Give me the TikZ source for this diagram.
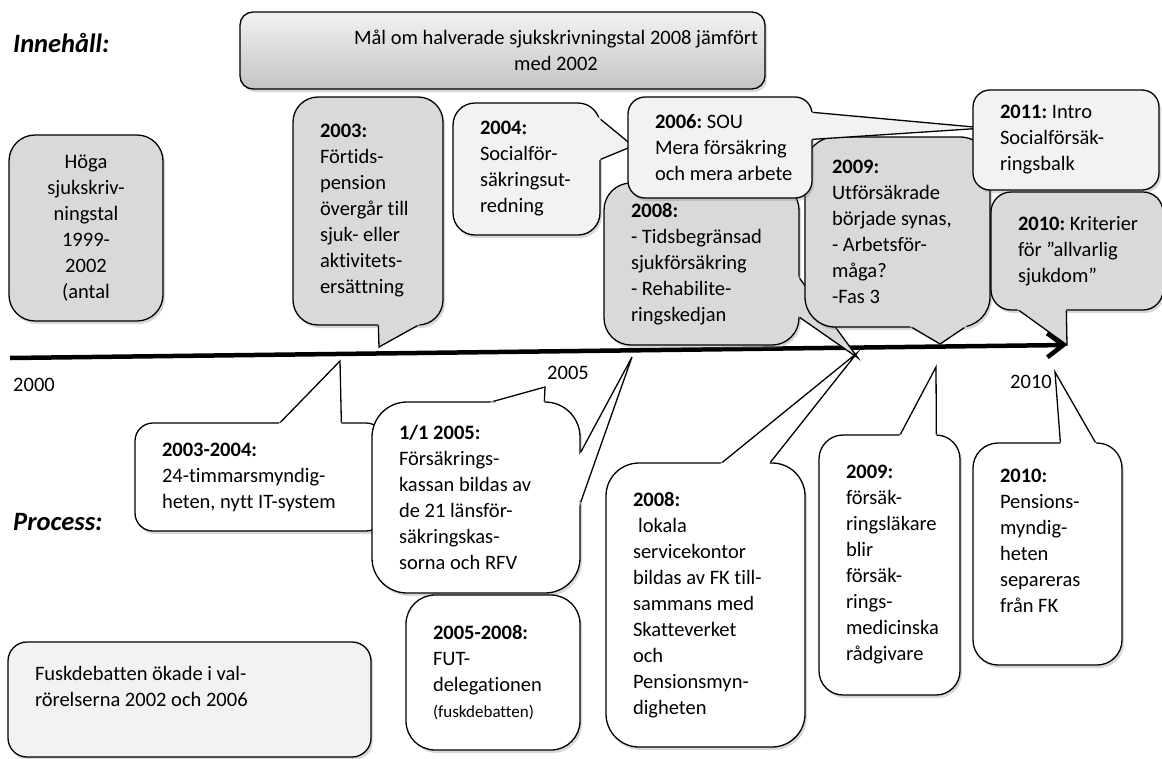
\documentclass[tikz,border=0pt]{standalone}
\usepackage{fontspec}
\setmainfont{Carlito}[Ligatures=NoCommon]
\usetikzlibrary{calc,shadows,arrows.meta}

\definecolor{boxgray}{RGB}{217,217,217}
\definecolor{boxlight}{RGB}{242,242,242}

\newcommand{\tail}[4]{%
  \path ($#2$) coordinate (tb1) ($#4$) coordinate (tb2);
  \fill[#1] ($(tb1)!-4pt!(#3)$) -- (#3) -- ($(tb2)!-4pt!(#3)$) -- cycle;
  \draw[tailline] (tb1) -- (#3) -- (tb2);}

\begin{document}
\begin{tikzpicture}[x=1pt, y=-1pt,
    font=\fontsize{20.5}{26}\selectfont,
    tight/.style={execute at begin node={\frenchspacing\spaceskip=\fontdimen2\font\relax}},
    bubble/.style n args={3}{draw, line width=1.3pt, rounded corners=#3,
      minimum width=#1, minimum height=#2, text width=#1-12,
      inner xsep=6pt, inner ysep=0pt, align=left, tight,
      drop shadow={shadow xshift=2pt, shadow yshift=-3pt, opacity=0.3}},
    card/.style n args={3}{bubble={#1}{#2}{#3}, execute at begin node={\leftskip=21pt}},
    tailline/.style={line width=1.3pt, line join=miter},
    heading/.style={font=\fontsize{26.5}{30}\selectfont\bfseries\itshape, anchor=west, inner sep=0pt},
    year/.style={inner sep=0pt}
    ]
    \useasboundingbox[fill=white] (0,0) rectangle (1162,758);

    \coordinate (tstart) at (10,358);
    \coordinate (tend) at (1067,345);
    \draw[line width=4.5pt, -{Straight Barb[length=16pt, width=24pt]}] (tstart) -- (tend);

    \node[bubble={525}{77}{13}, top color=boxlight, bottom color=boxgray!90!black] (goal) at (502.5,50.5) {};
    \node[align=center, tight] (goaltext) at (556,50) {Mål om halverade sjukskrivningstal 2008 jämfört\\med 2002};

    \node[bubble={154}{186}{26}, fill=boxgray, align=center] (hoga) at (86,228)
      {Höga\\sjukskriv-\\ningstal\\1999-\\2002\\(antal};

    \node[card={150}{228}{25}, fill=boxgray] (n2003) at (368,211)
      {\textbf{2003:}\\Förtids-\\pension\\övergår till\\sjuk- eller\\aktivitets-\\ersättning};
    \coordinate (tip2003) at (379,347);
    \tail{boxgray}{(n2003.south west)+(86,0)}{tip2003}{(n2003.south west)+(125,0)}

    \node[card={147}{132}{22}, fill=boxlight] (n2004) at (526.5,169)
      {\textbf{2004:}\\Socialför-\\säkringsut-\\redning};
    \coordinate (tip2004) at (633,146);
    \tail{boxlight}{(n2004.north east)+(0,17)}{tip2004}{(n2004.north east)+(0,57)}

    \node[card={195}{162}{27}, fill=boxgray] (n2008u) at (701.5,264)
      {\textbf{2008:}\\- Tidsbegränsad\\sjukförsäkring\\- Rehabilite-\\ringskedjan};
    \coordinate (tip2008u) at (858,358);
    \tail{boxgray}{(n2008u.north east)+(0,96)}{tip2008u}{(n2008u.north east)+(0,135)}

    \node[card={185}{190}{30}, fill=boxgray] (n2009u) at (897.5,232)
      {\textbf{2009:}\\Utförsäkrade\\började synas,\\- Arbetsför-\\måga?\\-Fas 3};
    \coordinate (tip2009u) at (940,344);
    \tail{boxgray}{(n2009u.south west)+(108,0)}{tip2009u}{(n2009u.south west)+(160,0)}

    \node[card={184}{101}{17}, fill=boxlight] (n2006) at (720,147.5)
      {\textbf{2006:} SOU\\Mera försäkring\\och mera arbete};
    \coordinate (tip2006) at (985,128);
    \tail{boxlight}{(n2006.north east)+(0,16)}{tip2006}{(n2006.north east)+(0,43)}

    \node[card={186}{100}{17}, fill=boxlight] (n2011) at (1066,140)
      {\textbf{2011:} Intro\\Socialförsäk-\\ringsbalk};

    \node[card={172}{118}{20}, fill=boxgray] (n2010u) at (1077,251)
      {\textbf{2010:} Kriterier\\för ”allvarlig\\sjukdom”};
    \coordinate (tip2010u) at (1067,345);
    \tail{boxgray}{(n2010u.south west)+(29,0)}{tip2010u}{(n2010u.south west)+(76,0)}

    \node[card={249}{108}{18}, fill=white] (n0304) at (259.5,477)
      {\textbf{2003-2004:}\\24-timmarsmyndig-\\heten, nytt IT-system};
    \coordinate (tip0304) at (340,361);
    \tail{white}{(n0304.north west)+(146,0)}{tip0304}{(n0304.north west)+(207,0)}

    \node[card={208}{191}{35}, fill=white] (n0105) at (476,497.5)
      {\textbf{1/1 2005:}\\Försäkrings-\\kassan bildas av\\de 21 länsför-\\säkringskas-\\sorna och RFV};
    \coordinate (tip0105a) at (545,387);
    \coordinate (tip0105b) at (632,357);
    \tail{white}{(n0105.north west)+(122,0)}{tip0105a}{(n0105.north west)+(173,0)}
    \tail{white}{(n0105.north east)+(0,51)}{tip0105b}{(n0105.north east)+(0,101)}

    \node[card={174}{155}{29}, fill=white] (n0508) at (493,672.5)
      {\textbf{2005-2008:}\\FUT-\\delegationen\\{\fontsize{17}{26}\selectfont(fuskdebatten)}};

    \node[card={363}{115}{19}, fill=boxlight] (fusk) at (189.5,699.5)
      {Fuskdebatten ökade i val-\\rörelserna 2002 och 2006\\\mbox{}};

    \node[card={199}{284}{33}, fill=white] (n2008l) at (705.5,605)
      {\textbf{2008:}\\\hspace*{0.25em}lokala\\servicekontor\\bildas av FK till-\\sammans med\\Skatteverket\\och\\Pensionsmyn-\\digheten};
    \coordinate (tip2008l) at (857,353);
    \tail{white}{(n2008l.north west)+(117,0)}{tip2008l}{(n2008l.north west)+(165,0)}

    \node[card={141}{260}{24}, fill=white] (n2009l) at (889.5,565)
      {\textbf{2009:}\\försäk-\\ringsläkare\\blir\\försäk-\\rings-\\medicinska\\rådgivare};
    \coordinate (tip2009l) at (936,367);
    \tail{white}{(n2009l.north west)+(82,0)}{tip2009l}{(n2009l.north west)+(118,0)}

    \node[card={149}{222}{25}, fill=white] (n2010l) at (1047.5,554)
      {\textbf{2010:}\\Pensions-\\myndig-\\heten\\separeras\\från FK\\\mbox{}};
    \coordinate (tip2010l) at (1055,372);
    \tail{white}{(n2010l.north west)+(88,0)}{tip2010l}{(n2010l.north west)+(123,0)}

    \node[heading] (contentlbl) at (13,43) {Innehåll:};
    \node[heading] (processlbl) at (13,522) {Process:};
    \node[year] (y2000) at (34,385) {2000};
    \node[year] (y2005) at (568,373) {2005};
    \node[year] (y2010) at (1031,382) {2010};
\end{tikzpicture}
\end{document}
